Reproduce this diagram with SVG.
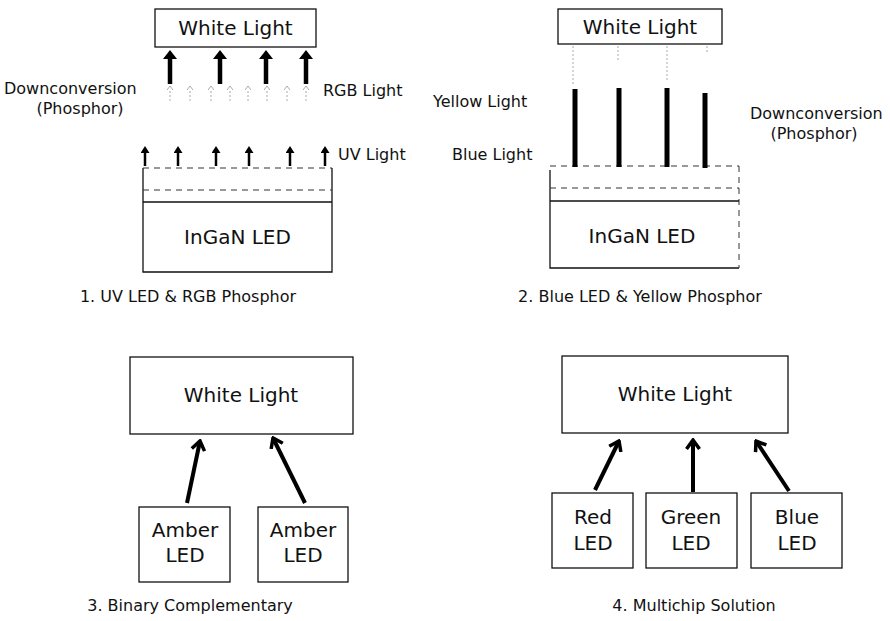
<svg xmlns="http://www.w3.org/2000/svg" width="890" height="621" viewBox="0 0 890 621">
<style>
  .box { fill: #fff; stroke: #111; stroke-width: 1.3; }
  .t { font-family: "DejaVu Sans", "Liberation Sans", sans-serif; fill: #111; }
  .big { font-size: 20px; text-anchor: middle; }
  .lbl { font-size: 16px; }
  .cap { font-size: 16px; text-anchor: middle; }
  .thick { stroke: #000; stroke-width: 4.5; fill: none; }
  .uv { stroke: #000; stroke-width: 2.5; fill: none; }
  .faint { stroke: #aaa; stroke-width: 1; stroke-dasharray: 2 2; fill: none; }
  .bar { stroke: #000; stroke-width: 5; fill: none; }
  .dash { stroke: #333; stroke-width: 1; stroke-dasharray: 6 5; fill: none; }
  .solid { stroke: #111; stroke-width: 1.3; fill: none; }
  .conn { stroke: #000; stroke-width: 4; fill: none; }
</style>
<defs>
  <marker id="fat" markerUnits="userSpaceOnUse" viewBox="0 0 9 14" refX="1" refY="7" markerWidth="9" markerHeight="14" orient="auto">
    <path d="M0,0 L9,7 L0,14 z" fill="#000"/>
  </marker>
  <marker id="small" markerUnits="userSpaceOnUse" viewBox="0 0 7 9" refX="1" refY="4.5" markerWidth="7" markerHeight="9" orient="auto">
    <path d="M0,0 L7,4.5 L0,9 z" fill="#000"/>
  </marker>
  <marker id="tiny" markerUnits="userSpaceOnUse" viewBox="0 0 4 6" refX="1" refY="3" markerWidth="4" markerHeight="6" orient="auto">
    <path d="M0,0 L4,3 L0,6" fill="none" stroke="#aaa" stroke-width="1"/>
  </marker>
  <marker id="chev" markerUnits="userSpaceOnUse" viewBox="0 0 12 16" refX="10" refY="8" markerWidth="12" markerHeight="16" orient="auto">
    <path d="M1,1.5 L10,8 L1,14.5" fill="none" stroke="#000" stroke-width="3.5"/>
  </marker>
</defs>

<!-- Panel 1 -->
<g id="p1-white">
  <rect class="box" x="155" y="9" width="161" height="38"/>
  <text class="t big" x="235.5" y="35">White Light</text>
</g>
<g id="p1-led">
  <line class="dash" x1="143" y1="168" x2="332" y2="168"/>
  <path class="solid" d="M143,168 V272 H332 V168"/>
  <line class="dash" x1="143" y1="190" x2="332" y2="190"/>
  <line class="solid" x1="143" y1="202" x2="332" y2="202"/>
  <text class="t big" x="237.5" y="244">InGaN LED</text>
</g>
<g id="p1-labels">
  <text class="t lbl" x="4" y="94">Downconversion</text>
  <text class="t lbl" x="80" y="114" text-anchor="middle">(Phosphor)</text>
  <text class="t lbl" x="323" y="96">RGB Light</text>
  <text class="t lbl" x="338" y="160">UV Light</text>
  <text class="t cap" x="188" y="302">1. UV LED &amp; RGB Phosphor</text>
</g>

<!-- Panel 2 -->
<g id="p2-white">
  <rect class="box" x="558" y="9" width="164" height="35"/>
  <text class="t big" x="640" y="34">White Light</text>
</g>
<g id="p2-led">
  <line class="dash" x1="550" y1="166" x2="739" y2="166"/>
  <path class="solid" d="M550,170 V268 H739"/>
  <line class="dash" x1="739" y1="166" x2="739" y2="268"/>
  <line class="dash" x1="550" y1="188" x2="739" y2="188"/>
  <line class="solid" x1="550" y1="201" x2="739" y2="201"/>
  <text class="t big" x="642" y="243">InGaN LED</text>
</g>
<g id="p2-labels">
  <text class="t lbl" x="433" y="107">Yellow Light</text>
  <text class="t lbl" x="452" y="160">Blue Light</text>
  <text class="t lbl" x="750" y="119">Downconversion</text>
  <text class="t lbl" x="814" y="139" text-anchor="middle">(Phosphor)</text>
  <text class="t cap" x="640" y="302">2. Blue LED &amp; Yellow Phosphor</text>
</g>

<!-- Panel 3 -->
<g id="p3-white">
  <rect class="box" x="130" y="357" width="223" height="77"/>
  <text class="t big" x="241" y="402">White Light</text>
</g>
<g id="p3-amber1">
  <rect class="box" x="139" y="507" width="91" height="75"/>
  <text class="t big" x="185" y="537">Amber</text>
  <text class="t big" x="185" y="562">LED</text>
</g>
<g id="p3-amber2">
  <rect class="box" x="258" y="507" width="90" height="75"/>
  <text class="t big" x="303" y="537">Amber</text>
  <text class="t big" x="303" y="562">LED</text>
</g>
<text class="t cap" x="190" y="611">3. Binary Complementary</text>

<!-- Panel 4 -->
<g id="p4-white">
  <rect class="box" x="562" y="356" width="226" height="77"/>
  <text class="t big" x="675" y="401">White Light</text>
</g>
<g id="p4-red">
  <rect class="box" x="552" y="493" width="81" height="75"/>
  <text class="t big" x="593" y="524">Red</text>
  <text class="t big" x="593" y="550">LED</text>
</g>
<g id="p4-green">
  <rect class="box" x="646" y="493" width="91" height="75"/>
  <text class="t big" x="691" y="524">Green</text>
  <text class="t big" x="691" y="550">LED</text>
</g>
<g id="p4-blue">
  <rect class="box" x="751" y="493" width="91" height="75"/>
  <text class="t big" x="797" y="524">Blue</text>
  <text class="t big" x="797" y="550">LED</text>
</g>
<text class="t cap" x="694" y="611">4. Multichip Solution</text>

<!-- Connectors -->
<g id="connectors">
  <!-- panel 1 white light arrows -->
  <line class="thick" x1="170" y1="84" x2="170" y2="58" marker-end="url(#fat)"/>
  <line class="thick" x1="220" y1="84" x2="220" y2="58" marker-end="url(#fat)"/>
  <line class="thick" x1="266" y1="84" x2="266" y2="58" marker-end="url(#fat)"/>
  <line class="thick" x1="306" y1="84" x2="306" y2="58" marker-end="url(#fat)"/>
  <!-- panel 1 faint RGB arrows -->
  <line class="faint" x1="170" y1="101" x2="170" y2="89" marker-end="url(#tiny)"/>
  <line class="faint" x1="190" y1="101" x2="190" y2="89" marker-end="url(#tiny)"/>
  <line class="faint" x1="211" y1="101" x2="211" y2="89" marker-end="url(#tiny)"/>
  <line class="faint" x1="230" y1="101" x2="230" y2="89" marker-end="url(#tiny)"/>
  <line class="faint" x1="248" y1="101" x2="248" y2="89" marker-end="url(#tiny)"/>
  <line class="faint" x1="267" y1="101" x2="267" y2="89" marker-end="url(#tiny)"/>
  <line class="faint" x1="287" y1="101" x2="287" y2="89" marker-end="url(#tiny)"/>
  <line class="faint" x1="306" y1="101" x2="306" y2="89" marker-end="url(#tiny)"/>
  <!-- panel 1 UV arrows -->
  <line class="uv" x1="145" y1="166" x2="145" y2="152" marker-end="url(#small)"/>
  <line class="uv" x1="178" y1="166" x2="178" y2="152" marker-end="url(#small)"/>
  <line class="uv" x1="216" y1="166" x2="216" y2="152" marker-end="url(#small)"/>
  <line class="uv" x1="249" y1="166" x2="249" y2="152" marker-end="url(#small)"/>
  <line class="uv" x1="290" y1="166" x2="290" y2="152" marker-end="url(#small)"/>
  <line class="uv" x1="325" y1="166" x2="325" y2="152" marker-end="url(#small)"/>
  <!-- panel 2 faint and bars -->
  <line class="faint" x1="573" y1="46" x2="573" y2="84"/>
  <line class="faint" x1="618" y1="46" x2="618" y2="60"/>
  <line class="faint" x1="667" y1="46" x2="667" y2="82"/>
  <line class="faint" x1="707" y1="46" x2="707" y2="52"/>
  <line class="bar" x1="575" y1="89" x2="575" y2="167"/>
  <line class="bar" x1="619" y1="88" x2="619" y2="167"/>
  <line class="bar" x1="667" y1="88" x2="667" y2="167"/>
  <line class="bar" x1="705" y1="93" x2="705" y2="168"/>
  <!-- panel 3 -->
  <line class="conn" x1="187" y1="503" x2="200" y2="441" marker-end="url(#chev)"/>
  <line class="conn" x1="305" y1="503" x2="273" y2="438" marker-end="url(#chev)"/>
  <!-- panel 4 -->
  <line class="conn" x1="595" y1="490" x2="619" y2="441" marker-end="url(#chev)"/>
  <line class="conn" x1="693" y1="492" x2="693" y2="440" marker-end="url(#chev)"/>
  <line class="conn" x1="789" y1="491" x2="756" y2="441" marker-end="url(#chev)"/>
</g>
</svg>
